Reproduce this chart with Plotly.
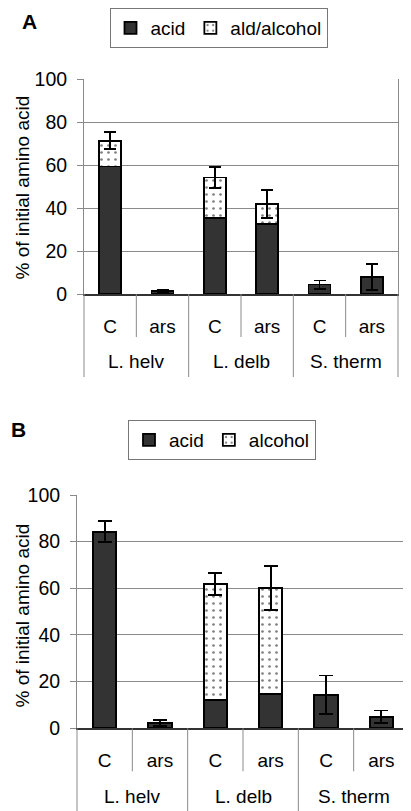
import plotly.graph_objects as go

# The page body adds an 8px margin; the figure is sized and positioned to compensate.
OFF = 8
W, H = 411 - OFF, 811 - OFF
FONT = "Liberation Sans, Arial, sans-serif"

# ---- data ----
strains = ["L. helv", "L. delb", "S. therm"]
treatments = ["C", "ars", "C", "ars", "C", "ars"]
x_pos = [0, 1, 2, 3, 4, 5]

a_acid = [59.3, 1.5, 35.2, 32.6, 4.4, 7.9]
a_ald = [12.0, 0.0, 19.0, 9.3, 0.0, 0.0]
a_err = [3.9, 0.5, 5.0, 6.4, 1.9, 5.9]

b_acid = [84.3, 2.3, 12.0, 14.8, 14.3, 4.9]
b_alc = [0.0, 0.0, 49.7, 45.4, 0.0, 0.0]
b_err = [4.6, 1.2, 4.7, 9.4, 8.3, 2.7]

ytick_vals = [0, 20, 40, 60, 80, 100]
y_title = "% of initial amino acid"

DARK = "#333333"
GRID = "#8a8a8a"

fig = go.Figure()

def add_panel(acid, other, err, other_name, xa, ya, legend, capw):
    fig.add_trace(go.Bar(
        x=x_pos, y=acid, name="acid", xaxis=xa, yaxis=ya, legend=legend,
        marker=dict(color=DARK, line=dict(color="black", width=1.8)),
        width=0.42,
    ))
    fig.add_trace(go.Bar(
        x=x_pos, y=other, name=other_name, xaxis=xa, yaxis=ya, legend=legend,
        marker=dict(color="white", line=dict(color="black", width=1.8),
                    pattern=dict(shape=".", fgcolor="black", bgcolor="white",
                                 size=7, solidity=0.12)),
        width=0.42,
        error_y=dict(type="data", array=err, visible=True, color="black",
                     thickness=1.8, width=capw),
    ))

add_panel(a_acid, a_ald, a_err, "ald/alcohol", "x", "y", "legend", 6)
add_panel(b_acid, b_alc, b_err, "alcohol", "x2", "y2", "legend2", 7)

# plot-area geometry (screen pixels)
A_left, A_right, A_top, A_bot = 84, 398, 79, 294
B_left, B_right, B_top, B_bot = 77, 409, 495, 728.3

def px_x(p):
    return (p - OFF) / W

def px_y(p):
    return 1 - (p - OFF) / H

def xdom(l, r):
    return [px_x(l), px_x(r)]

def ydom(t, b):
    return [px_y(b), px_y(t)]

axis_common_x = dict(range=[-0.5, 5.5], tickmode="array", tickvals=x_pos,
                     ticktext=treatments, showgrid=False, ticks="",
                     tickfont=dict(size=19, color="black", family=FONT),
                     showline=True, linecolor=DARK, linewidth=1.5,
                     zeroline=False, ticklabelstandoff=14, automargin=False)

axis_common_y = dict(range=[0, 100], tickmode="array", tickvals=ytick_vals,
                     showgrid=True, gridcolor=GRID, gridwidth=1,
                     ticks="outside", ticklen=6, tickcolor=GRID,
                     tickfont=dict(size=19.5, color="black", family=FONT),
                     ticklabelstandoff=6,
                     showline=True, linecolor=GRID, linewidth=1, mirror=True,
                     zeroline=False, automargin=False)

fig.update_layout(
    xaxis=dict(domain=xdom(A_left, A_right), anchor="y", **axis_common_x),
    yaxis=dict(domain=ydom(A_top, A_bot), anchor="x", **axis_common_y),
    xaxis2=dict(domain=xdom(B_left, B_right), anchor="y2", **axis_common_x),
    yaxis2=dict(domain=ydom(B_top, B_bot), anchor="x2", **axis_common_y),
)

# category dividers (Excel-style multi-level axis)
shapes = []
def dividers(xa, ya, plot_h):
    short = 43 / plot_h
    long_ = 83 / plot_h
    for xv in [0.5, 2.5, 4.5]:
        shapes.append(dict(type="line", xref=xa, yref=ya + " domain",
                           x0=xv, x1=xv, y0=0, y1=-short,
                           line=dict(color=GRID, width=1)))
    for xv in [1.5, 3.5]:
        shapes.append(dict(type="line", xref=xa, yref=ya + " domain",
                           x0=xv, x1=xv, y0=0, y1=-long_,
                           line=dict(color=GRID, width=1)))
    for xv in [0, 1]:
        shapes.append(dict(type="line", xref=xa + " domain", yref=ya + " domain",
                           x0=xv, x1=xv, y0=0, y1=-long_,
                           line=dict(color=GRID, width=1)))

dividers("x", "y", A_bot - A_top)
dividers("x2", "y2", B_bot - B_top)

annotations = []
def group_labels(xa, ya, plot_h):
    for i, s in enumerate(strains):
        annotations.append(dict(text=s, xref=xa, yref=ya + " domain",
                                x=2 * i + 0.5, y=-68 / plot_h,
                                xanchor="center", yanchor="middle",
                                showarrow=False,
                                font=dict(size=19, color="black", family=FONT)))

group_labels("x", "y", A_bot - A_top)
group_labels("x2", "y2", B_bot - B_top)

# y-axis titles (kept fully inside the page)
annotations.append(dict(text=y_title, xref="paper", yref="paper",
                        x=px_x(22), y=px_y(187.5), textangle=-90,
                        xanchor="center", yanchor="middle", showarrow=False,
                        font=dict(size=19, color="black", family=FONT)))
annotations.append(dict(text=y_title, xref="paper", yref="paper",
                        x=px_x(21.5), y=px_y(616), textangle=-90,
                        xanchor="center", yanchor="middle", showarrow=False,
                        font=dict(size=19, color="black", family=FONT)))

annotations.append(dict(text="<b>A</b>", xref="paper", yref="paper",
                        x=px_x(29), y=px_y(22), xanchor="center", yanchor="middle",
                        showarrow=False, font=dict(size=21, color="black", family=FONT)))
annotations.append(dict(text="<b>B</b>", xref="paper", yref="paper",
                        x=px_x(18), y=px_y(429.5), xanchor="center", yanchor="middle",
                        showarrow=False, font=dict(size=21, color="black", family=FONT)))

legend_style = dict(orientation="h", xanchor="center", yanchor="top",
                    bordercolor="#777777", borderwidth=1, bgcolor="white",
                    font=dict(size=19, color="black", family=FONT),
                    traceorder="normal")

fig.update_layout(
    width=W, height=H,
    margin=dict(l=0, r=0, t=0, b=0, autoexpand=False),
    paper_bgcolor="white", plot_bgcolor="white",
    barmode="stack",
    showlegend=True,
    legend=dict(x=px_x(218.5), y=1.0, **legend_style),
    legend2=dict(x=px_x(222), y=px_y(420), **legend_style),
    shapes=shapes,
    annotations=annotations,
    font=dict(family=FONT, color="black"),
)

fig.write_html("out.html")
